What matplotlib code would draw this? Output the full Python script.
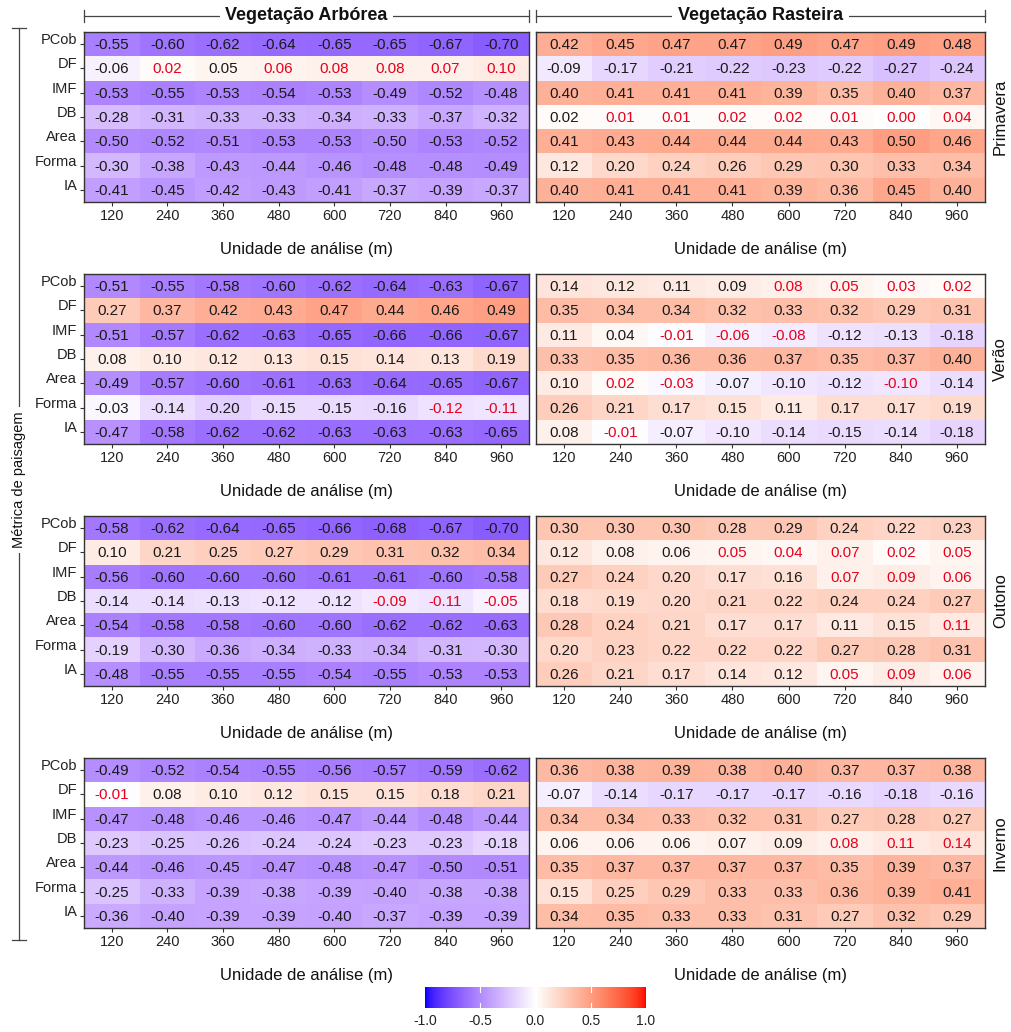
import numpy as np
import matplotlib
matplotlib.use('Agg')
import matplotlib.pyplot as plt
from matplotlib.colors import ListedColormap

plt.rcParams['font.family'] = ['Liberation Sans', 'DejaVu Sans']

# ---- dados: correlações por estação e tipo de vegetação ----
metricas = ['PCob', 'DF', 'IMF', 'DB', 'Area', 'Forma', 'IA']
unidades = ['120', '240', '360', '480', '600', '720', '840', '960']
estacoes = ['Primavera', 'Verão', 'Outono', 'Inverno']
vegetacao = ['Vegetação Arbórea', 'Vegetação Rasteira']

prim_arb = [[-0.55, -0.60, -0.62, -0.64, -0.65, -0.65, -0.67, -0.70],
            [-0.06, 0.02, 0.05, 0.06, 0.08, 0.08, 0.07, 0.10],
            [-0.53, -0.55, -0.53, -0.54, -0.53, -0.49, -0.52, -0.48],
            [-0.28, -0.31, -0.33, -0.33, -0.34, -0.33, -0.37, -0.32],
            [-0.50, -0.52, -0.51, -0.53, -0.53, -0.50, -0.53, -0.52],
            [-0.30, -0.38, -0.43, -0.44, -0.46, -0.48, -0.48, -0.49],
            [-0.41, -0.45, -0.42, -0.43, -0.41, -0.37, -0.39, -0.37]]
prim_ras = [[0.42, 0.45, 0.47, 0.47, 0.49, 0.47, 0.49, 0.48],
            [-0.09, -0.17, -0.21, -0.22, -0.23, -0.22, -0.27, -0.24],
            [0.40, 0.41, 0.41, 0.41, 0.39, 0.35, 0.40, 0.37],
            [0.02, 0.01, 0.01, 0.02, 0.02, 0.01, 0.00, 0.04],
            [0.41, 0.43, 0.44, 0.44, 0.44, 0.43, 0.50, 0.46],
            [0.12, 0.20, 0.24, 0.26, 0.29, 0.30, 0.33, 0.34],
            [0.40, 0.41, 0.41, 0.41, 0.39, 0.36, 0.45, 0.40]]
ver_arb = [[-0.51, -0.55, -0.58, -0.60, -0.62, -0.64, -0.63, -0.67],
           [0.27, 0.37, 0.42, 0.43, 0.47, 0.44, 0.46, 0.49],
           [-0.51, -0.57, -0.62, -0.63, -0.65, -0.66, -0.66, -0.67],
           [0.08, 0.10, 0.12, 0.13, 0.15, 0.14, 0.13, 0.19],
           [-0.49, -0.57, -0.60, -0.61, -0.63, -0.64, -0.65, -0.67],
           [-0.03, -0.14, -0.20, -0.15, -0.15, -0.16, -0.12, -0.11],
           [-0.47, -0.58, -0.62, -0.62, -0.63, -0.63, -0.63, -0.65]]
ver_ras = [[0.14, 0.12, 0.11, 0.09, 0.08, 0.05, 0.03, 0.02],
           [0.35, 0.34, 0.34, 0.32, 0.33, 0.32, 0.29, 0.31],
           [0.11, 0.04, -0.01, -0.06, -0.08, -0.12, -0.13, -0.18],
           [0.33, 0.35, 0.36, 0.36, 0.37, 0.35, 0.37, 0.40],
           [0.10, 0.02, -0.03, -0.07, -0.10, -0.12, -0.10, -0.14],
           [0.26, 0.21, 0.17, 0.15, 0.11, 0.17, 0.17, 0.19],
           [0.08, -0.01, -0.07, -0.10, -0.14, -0.15, -0.14, -0.18]]
out_arb = [[-0.58, -0.62, -0.64, -0.65, -0.66, -0.68, -0.67, -0.70],
           [0.10, 0.21, 0.25, 0.27, 0.29, 0.31, 0.32, 0.34],
           [-0.56, -0.60, -0.60, -0.60, -0.61, -0.61, -0.60, -0.58],
           [-0.14, -0.14, -0.13, -0.12, -0.12, -0.09, -0.11, -0.05],
           [-0.54, -0.58, -0.58, -0.60, -0.60, -0.62, -0.62, -0.63],
           [-0.19, -0.30, -0.36, -0.34, -0.33, -0.34, -0.31, -0.30],
           [-0.48, -0.55, -0.55, -0.55, -0.54, -0.55, -0.53, -0.53]]
out_ras = [[0.30, 0.30, 0.30, 0.28, 0.29, 0.24, 0.22, 0.23],
           [0.12, 0.08, 0.06, 0.05, 0.04, 0.07, 0.02, 0.05],
           [0.27, 0.24, 0.20, 0.17, 0.16, 0.07, 0.09, 0.06],
           [0.18, 0.19, 0.20, 0.21, 0.22, 0.24, 0.24, 0.27],
           [0.28, 0.24, 0.21, 0.17, 0.17, 0.11, 0.15, 0.11],
           [0.20, 0.23, 0.22, 0.22, 0.22, 0.27, 0.28, 0.31],
           [0.26, 0.21, 0.17, 0.14, 0.12, 0.05, 0.09, 0.06]]
inv_arb = [[-0.49, -0.52, -0.54, -0.55, -0.56, -0.57, -0.59, -0.62],
           [-0.01, 0.08, 0.10, 0.12, 0.15, 0.15, 0.18, 0.21],
           [-0.47, -0.48, -0.46, -0.46, -0.47, -0.44, -0.48, -0.44],
           [-0.23, -0.25, -0.26, -0.24, -0.24, -0.23, -0.23, -0.18],
           [-0.44, -0.46, -0.45, -0.47, -0.48, -0.47, -0.50, -0.51],
           [-0.25, -0.33, -0.39, -0.38, -0.39, -0.40, -0.38, -0.38],
           [-0.36, -0.40, -0.39, -0.39, -0.40, -0.37, -0.39, -0.39]]
inv_ras = [[0.36, 0.38, 0.39, 0.38, 0.40, 0.37, 0.37, 0.38],
           [-0.07, -0.14, -0.17, -0.17, -0.17, -0.16, -0.18, -0.16],
           [0.34, 0.34, 0.33, 0.32, 0.31, 0.27, 0.28, 0.27],
           [0.06, 0.06, 0.06, 0.07, 0.09, 0.08, 0.11, 0.14],
           [0.35, 0.37, 0.37, 0.37, 0.37, 0.35, 0.39, 0.37],
           [0.15, 0.25, 0.29, 0.33, 0.33, 0.36, 0.39, 0.41],
           [0.34, 0.35, 0.33, 0.33, 0.31, 0.27, 0.32, 0.29]]

# células não significativas (linha, coluna) -> texto em vermelho
ns_prim_arb = [(1, 1), (1, 3), (1, 4), (1, 5), (1, 6), (1, 7)]
ns_prim_ras = [(3, 1), (3, 2), (3, 3), (3, 4), (3, 5), (3, 6), (3, 7)]
ns_ver_arb = [(5, 6), (5, 7)]
ns_ver_ras = [(0, 4), (0, 5), (0, 6), (0, 7), (2, 2), (2, 3), (2, 4),
              (4, 1), (4, 2), (4, 6), (6, 1)]
ns_out_arb = [(3, 5), (3, 6), (3, 7)]
ns_out_ras = [(1, 3), (1, 4), (1, 5), (1, 6), (1, 7), (2, 5), (2, 6), (2, 7),
              (4, 7), (6, 5), (6, 6), (6, 7)]
ns_inv_arb = [(1, 0)]
ns_inv_ras = [(3, 5), (3, 6), (3, 7)]

paineis = [[(prim_arb, ns_prim_arb), (prim_ras, ns_prim_ras)],
           [(ver_arb, ns_ver_arb), (ver_ras, ns_ver_ras)],
           [(out_arb, ns_out_arb), (out_ras, ns_out_ras)],
           [(inv_arb, ns_inv_arb), (inv_ras, ns_inv_ras)]]


# gradiente azul-branco-vermelho interpolado em CIELAB
def srgb2lab(c):
    c = np.asarray(c, float)
    lin = np.where(c <= 0.04045, c / 12.92, ((c + 0.055) / 1.055) ** 2.4)
    M = np.array([[0.4124, 0.3576, 0.1805],
                  [0.2126, 0.7152, 0.0722],
                  [0.0193, 0.1192, 0.9505]])
    xyz = M @ lin / np.array([0.95047, 1.0, 1.08883])
    f = np.where(xyz > 0.008856, np.cbrt(xyz), 7.787 * xyz + 16 / 116)
    return np.array([116 * f[1] - 16, 500 * (f[0] - f[1]), 200 * (f[1] - f[2])])


def lab2srgb(lab):
    L, a, b = lab
    fy = (L + 16) / 116
    fx = fy + a / 500
    fz = fy - b / 200
    f = np.array([fx, fy, fz])
    xyz = np.where(f ** 3 > 0.008856, f ** 3, (f - 16 / 116) / 7.787)
    xyz = xyz * np.array([0.95047, 1.0, 1.08883])
    Mi = np.array([[3.2406, -1.5372, -0.4986],
                   [-0.9689, 1.8758, 0.0415],
                   [0.0557, -0.2040, 1.0570]])
    lin = np.clip(Mi @ xyz, 0, 1)
    c = np.where(lin <= 0.0031308, 12.92 * lin, 1.055 * lin ** (1 / 2.4) - 0.055)
    return np.clip(c, 0, 1)


lab_b = srgb2lab([0, 0, 1])
lab_w = srgb2lab([1, 1, 1])
lab_r = srgb2lab([1, 0, 0])
cores = []
for t in np.linspace(-1, 1, 511):
    if t < 0:
        lab = lab_w + (-t) * (lab_b - lab_w)
    else:
        lab = lab_w + t * (lab_r - lab_w)
    cores.append(lab2srgb(lab))
cmap = ListedColormap(cores)

W, H = 1011, 1032
fig = plt.figure(figsize=(W / 100, H / 100), dpi=100)


def caixa(x0, y0, x1, y1):
    return [x0 / W, 1 - y1 / H, (x1 - x0) / W, (y1 - y0) / H]


# camada de fundo para cabeçalhos e chave lateral
base = fig.add_axes([0, 0, 1, 1])
base.set_xlim(0, W)
base.set_ylim(H, 0)
base.axis('off')

cx = [(84, 529), (536, 985)]
topos = [32, 274, 516, 758]
alt = 170

for (a, b), nome in zip(cx, vegetacao):
    base.plot([a, b], [16, 16], color='#444444', lw=0.9)
    base.plot([a, a], [10, 22], color='#444444', lw=0.9)
    base.plot([b, b], [10, 22], color='#444444', lw=0.9)
    base.text((a + b) / 2, 16, nome, ha='center', va='center', fontsize=13,
              fontweight='bold', color='#111111',
              bbox=dict(facecolor='white', edgecolor='none', pad=4))

base.plot([19, 19], [28, 940], color='#444444', lw=0.9)
base.plot([12, 26], [28, 28], color='#444444', lw=0.9)
base.plot([12, 26], [940, 940], color='#444444', lw=0.9)
base.text(19, 480, 'Métrica de paisagem', rotation=90, ha='center', va='center',
          fontsize=10.5, color='#111111',
          bbox=dict(facecolor='white', edgecolor='none', pad=3))

for i, linha in enumerate(paineis):
    y0 = topos[i]
    for j, (dados, ns) in enumerate(linha):
        x0, x1 = cx[j]
        ax = fig.add_axes(caixa(x0, y0, x1, y0 + alt))
        z = np.array(dados)
        ax.imshow(z, cmap=cmap, vmin=-1, vmax=1, aspect='auto',
                  interpolation='nearest')
        for r in range(z.shape[0]):
            for c in range(z.shape[1]):
                cor = '#e8001c' if (r, c) in ns else '#1a1a1a'
                ax.text(c, r + 0.04, f'{z[r, c]:.2f}', ha='center', va='center',
                        fontsize=11, color=cor)
        ax.set_xticks(range(len(unidades)))
        ax.set_xticklabels(unidades, fontsize=10.5, color='#222222')
        if j == 0:
            ax.set_yticks(range(len(metricas)))
            ax.set_yticklabels(metricas, fontsize=10.5, color='#222222',
                               va='baseline')
        else:
            ax.set_yticks([])
        ax.tick_params(length=3, width=0.8, color='#333333', pad=2)
        ax.set_xlabel('Unidade de análise (m)', fontsize=12, labelpad=14,
                      color='#111111')
        for s in ax.spines.values():
            s.set_color('#333333')
            s.set_linewidth(1.0)
        if j == 1:
            ax.text(1.034, 0.5, estacoes[i], transform=ax.transAxes,
                    rotation=90, ha='center', va='center', fontsize=12,
                    color='#111111')

# barra de cores
cax = fig.add_axes(caixa(425, 987, 646, 1008))
grad = np.linspace(-1, 1, 256).reshape(1, -1)
cax.imshow(grad, cmap=cmap, vmin=-1, vmax=1, aspect='auto',
           extent=(-1, 1, 0, 1))
for v in [-0.5, 0.0, 0.5]:
    cax.plot([v, v], [0, 0.22], color='white', lw=0.8)
    cax.plot([v, v], [0.78, 1], color='white', lw=0.8)
cax.set_xlim(-1, 1)
cax.set_ylim(0, 1)
cax.set_yticks([])
cax.set_xticks([-1, -0.5, 0, 0.5, 1])
cax.set_xticklabels(['-1.0', '-0.5', '0.0', '0.5', '1.0'], fontsize=10,
                    color='#222222')
cax.tick_params(length=0, pad=4)
for s in cax.spines.values():
    s.set_visible(False)

fig.savefig('out.png', dpi=100)
